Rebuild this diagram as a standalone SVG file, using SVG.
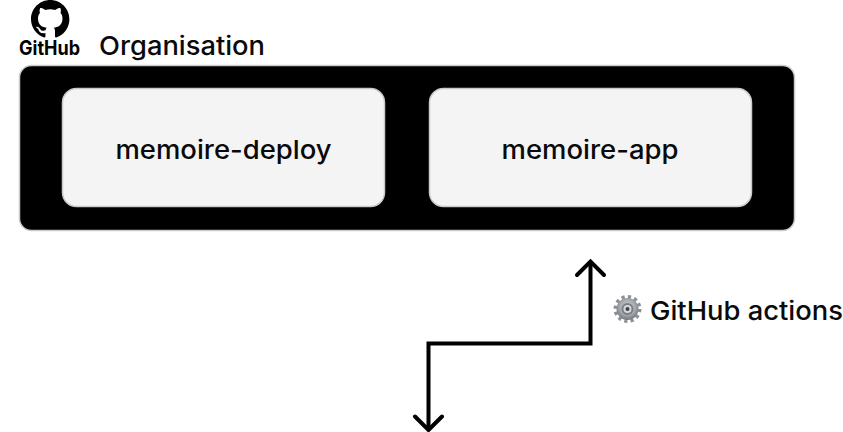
<svg xmlns="http://www.w3.org/2000/svg" width="843" height="432" viewBox="0 0 843 432">
<defs>
<style>
text{font-family:"Inter","Liberation Sans",sans-serif;font-weight:500;fill:#0a0a0a}
.l{font-size:26px}
.c{fill:none;stroke:#000;stroke-width:4;stroke-linecap:round;stroke-linejoin:miter}
.repo{fill:#f4f4f4;stroke:#c9c9c9;stroke-width:1.5}
</style>
<radialGradient id="g" cx="50%" cy="42%" r="62%"><stop offset="0" stop-color="#d4d6da"/><stop offset="0.6" stop-color="#a3a6ac"/><stop offset="1" stop-color="#6a6d73"/></radialGradient>
</defs>
<g id="github-logo">
<path transform="translate(31,0) scale(2.4)" fill="#000" d="M8 0C3.58 0 0 3.58 0 8c0 3.54 2.29 6.53 5.47 7.59.4.07.55-.17.55-.38 0-.19-.01-.82-.01-1.49-2.01.37-2.53-.49-2.69-.94-.09-.23-.48-.94-.82-1.13-.28-.15-.68-.52-.01-.53.63-.01 1.08.58 1.23.82.72 1.21 1.87.87 2.33.66.07-.52.28-.87.51-1.07-1.78-.2-3.64-.89-3.64-3.95 0-.87.31-1.59.82-2.15-.08-.2-.36-1.02.08-2.12 0 0 .67-.21 2.2.82.64-.18 1.32-.27 2-.27.68 0 1.36.09 2 .27 1.53-1.04 2.2-.82 2.2-.82.44 1.1.16 1.92.08 2.12.51.56.82 1.27.82 2.15 0 3.07-1.87 3.75-3.65 3.95.29.25.54.73.54 1.48 0 1.07-.01 1.93-.01 2.2 0 .21.15.46.55.38A8.013 8.013 0 0016 8c0-4.42-3.58-8-8-8z"/>
<text x="49.500" y="55" text-anchor="middle" font-size="20" style="font-weight:700;fill:#000" textLength="61" lengthAdjust="spacingAndGlyphs">GitHub</text>
</g>
<g id="organisation">
<text class="l" x="99" y="55" textLength="166" lengthAdjust="spacingAndGlyphs">Organisation</text>
<rect x="19.500" y="65.500" width="775" height="165" rx="12" fill="#000" stroke="#c9c9c9" stroke-width="1.500"/>
</g>
<g id="memoire-deploy">
<rect class="repo" x="62.500" y="88.500" width="322" height="118" rx="14"/>
<text class="l" x="223.500" y="159" text-anchor="middle" textLength="216" lengthAdjust="spacingAndGlyphs">memoire-deploy</text>
</g>
<g id="memoire-app">
<rect class="repo" x="429.500" y="88.500" width="322" height="118" rx="14"/>
<text class="l" x="590" y="159" text-anchor="middle" textLength="177" lengthAdjust="spacingAndGlyphs">memoire-app</text>
</g>
<g id="connectors">
<path class="c" d="M428.500 429V343.500H590.500V262"/>
<path class="c" d="M577 275L590.500 261.500L604 275"/>
<path class="c" d="M415 416.500L428.500 430L442 416.500"/>
</g>
<g id="github-actions">
<circle cx="627.500" cy="309" r="12" fill="none" stroke="#8d9096" stroke-width="4" stroke-dasharray="3.140 3.143"/>
<circle cx="627.500" cy="309" r="11" fill="url(#g)"/>
<circle cx="627.500" cy="309" r="6" fill="#7b7e84"/>
<circle cx="627.500" cy="309" r="4" fill="#d8d9db"/>
<circle cx="627.500" cy="309" r="2" fill="#3f4146"/>
<text class="l" x="650" y="320" textLength="193" lengthAdjust="spacingAndGlyphs">GitHub actions</text>
</g>
</svg>
